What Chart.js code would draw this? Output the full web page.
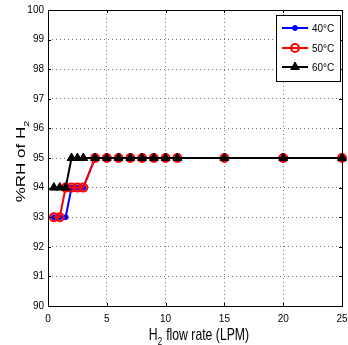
<!DOCTYPE html>
<html>
<head>
<meta charset="utf-8">
<script src="https://cdn.jsdelivr.net/npm/chart.js@4.4.0/dist/chart.umd.min.js"></script>
<style>
  html, body { margin: 0; padding: 0; background: #fff; }
  #wrap { width: 348px; height: 345px; }
</style>
</head>
<body>
<div id="wrap"><canvas id="rh" width="348" height="345"></canvas></div>
<script>
// humidity of the hydrogen stream vs. flow rate, at three temperatures
const flowRate = [0.5, 1, 1.5, 2, 2.5, 3, 4, 5, 6, 7, 8, 9, 10, 11, 15, 20, 25];
const rh40 = [93, 93, 93, 94, 94, 94, 95, 95, 95, 95, 95, 95, 95, 95, 95, 95, 95];
const rh50 = [93, 93, 94, 94, 94, 94, 95, 95, 95, 95, 95, 95, 95, 95, 95, 95, 95];
const rh60 = [94, 94, 94, 95, 95, 95, 95, 95, 95, 95, 95, 95, 95, 95, 95, 95, 95];
const seriesLabels = ['40°C', '50°C', '60°C'];
const xTicks = [0, 5, 10, 15, 20, 25];
const yTicks = [90, 91, 92, 93, 94, 95, 96, 97, 98, 99, 100];

const FONT = '"Liberation Sans", Arial, sans-serif';
const SQUEEZE = 0.72;   // narrow look for the axis titles

const pts = (ys) => flowRate.map((x, i) => ({ x: x, y: ys[i] }));

const noPad = (s) => { s.paddingLeft = 0; s.paddingRight = 0; s.paddingTop = 0; s.paddingBottom = 0; };

// text with a subscript tail, starting at (0,0) baseline
function subText(ctx, main, sub, size) {
  ctx.font = size + 'px ' + FONT;
  const w = ctx.measureText(main).width;
  ctx.fillText(main, 0, 0);
  ctx.font = Math.round(size * 0.65) + 'px ' + FONT;
  ctx.fillText(sub, w, size * 0.3);
  return w + ctx.measureText(sub).width;
}

// box, inward ticks, axis titles with subscripts, boxed legend
const matlabAxes = {
  id: 'matlabAxes',
  afterDatasetsDraw(chart) {
    const { ctx, chartArea: a, scales: { x, y } } = chart;
    ctx.save();
    ctx.strokeStyle = '#000';
    ctx.lineWidth = 1;
    ctx.beginPath();
    xTicks.forEach(v => {
      const px = Math.round(x.getPixelForValue(v)) + 0.5;
      ctx.moveTo(px, a.bottom); ctx.lineTo(px, a.bottom - 3);
      ctx.moveTo(px, a.top); ctx.lineTo(px, a.top + 3);
    });
    yTicks.forEach(v => {
      const py = Math.round(y.getPixelForValue(v)) + 0.5;
      ctx.moveTo(a.left, py); ctx.lineTo(a.left + 3, py);
      ctx.moveTo(a.right, py); ctx.lineTo(a.right - 3, py);
    });
    ctx.stroke();
    ctx.strokeRect(Math.round(a.left) + 0.5, Math.round(a.top) + 0.5,
      Math.round(a.right - a.left), Math.round(a.bottom - a.top));

    ctx.fillStyle = '#000';
    ctx.textBaseline = 'alphabetic';
    ctx.textAlign = 'left';

    // x title: H2 flow rate (LPM), H with subscript 2
    ctx.save();
    ctx.font = '17px ' + FONT;
    const xw = ctx.measureText('H flow rate (LPM)').width + 7;
    ctx.translate(199 - xw * SQUEEZE / 2, 340);
    ctx.scale(SQUEEZE, 1);
    ctx.font = '17px ' + FONT;
    const wh = ctx.measureText('H').width;
    ctx.fillText('H', 0, 0);
    ctx.font = '11px ' + FONT;
    ctx.fillText('2', wh, 5);
    ctx.font = '17px ' + FONT;
    ctx.fillText(' flow rate (LPM)', wh + 7, 0);
    ctx.restore();

    // y title: %RH of H2
    ctx.save();
    ctx.font = '17px ' + FONT;
    const yw = ctx.measureText('%RH of H').width + 7;
    ctx.translate(25, 161 + yw / 2);
    ctx.rotate(-Math.PI / 2);
    ctx.scale(1, SQUEEZE);
    subText(ctx, '%RH of H', '2', 17);
    ctx.restore();

    // legend
    const lx = 276, ly = 15, lw = 64, lh = 66;
    ctx.fillStyle = '#fff';
    ctx.fillRect(lx, ly, lw, lh);
    ctx.strokeStyle = '#000';
    ctx.lineWidth = 1;
    ctx.strokeRect(lx + 0.5, ly + 0.5, lw, lh);
    const rows = [28, 48, 67];
    chart.data.datasets.forEach((ds, i) => {
      const ry = rows[i];
      ctx.strokeStyle = ds.borderColor;
      ctx.lineWidth = 2;
      ctx.beginPath(); ctx.moveTo(282, ry); ctx.lineTo(308, ry); ctx.stroke();
      ctx.fillStyle = ds.pointBackgroundColor;
      ctx.lineWidth = ds.pointBorderWidth;
      Chart.helpers.drawPoint(ctx, {
        pointStyle: ds.pointStyle, radius: ds.pointRadius, borderWidth: ds.pointBorderWidth
      }, 295, ry);
      ctx.fillStyle = '#000';
      ctx.font = '10px ' + FONT;
      ctx.textBaseline = 'middle';
      ctx.fillText(seriesLabels[i], 312, ry + 1);
    });
    ctx.restore();
  }
};

new Chart(document.getElementById('rh'), {
  type: 'line',
  data: {
    datasets: [
      {
        label: seriesLabels[0], data: pts(rh40), order: 3,
        borderColor: '#0000ff', backgroundColor: '#0000ff',
        pointBackgroundColor: '#0000ff', pointStyle: 'circle',
        pointRadius: 2.5, pointBorderWidth: 1, borderWidth: 2
      },
      {
        label: seriesLabels[1], data: pts(rh50), order: 2,
        borderColor: '#ff0000', backgroundColor: 'rgba(0,0,0,0)',
        pointBackgroundColor: 'rgba(0,0,0,0)', pointStyle: 'circle',
        pointRadius: 4, pointBorderWidth: 2, borderWidth: 2
      },
      {
        label: seriesLabels[2], data: pts(rh60), order: 1,
        borderColor: '#000000', backgroundColor: '#000000',
        pointBackgroundColor: '#000000', pointStyle: 'triangle',
        pointRadius: 5, pointBorderWidth: 1, borderWidth: 2
      }
    ]
  },
  options: {
    responsive: false,
    animation: false,
    devicePixelRatio: 1,
    layout: { padding: { top: 10, right: 6, left: 0, bottom: 0 } },
    elements: { line: { tension: 0 } },
    datasets: { line: { clip: false } },
    plugins: { legend: { display: false }, tooltip: { enabled: false } },
    scales: {
      x: {
        type: 'linear', min: 0, max: 25,
        afterFit: (s) => { s.height = 39; noPad(s); },
        afterBuildTicks: (s) => { s.ticks = xTicks.map(v => ({ value: v })); },
        ticks: { color: '#000', padding: 7, maxRotation: 0, font: { family: FONT, size: 10 } },
        grid: { color: '#777', lineWidth: 1, drawTicks: false },
        border: { display: false, dash: [1, 3] }
      },
      y: {
        type: 'linear', min: 90, max: 100,
        afterFit: (s) => { s.width = 48; noPad(s); },
        afterBuildTicks: (s) => { s.ticks = yTicks.map(v => ({ value: v })); },
        ticks: { color: '#000', padding: 4, font: { family: FONT, size: 10 } },
        grid: { color: '#777', lineWidth: 1, drawTicks: false },
        border: { display: false, dash: [1, 3] }
      }
    }
  },
  plugins: [matlabAxes]
});
</script>
</body>
</html>
